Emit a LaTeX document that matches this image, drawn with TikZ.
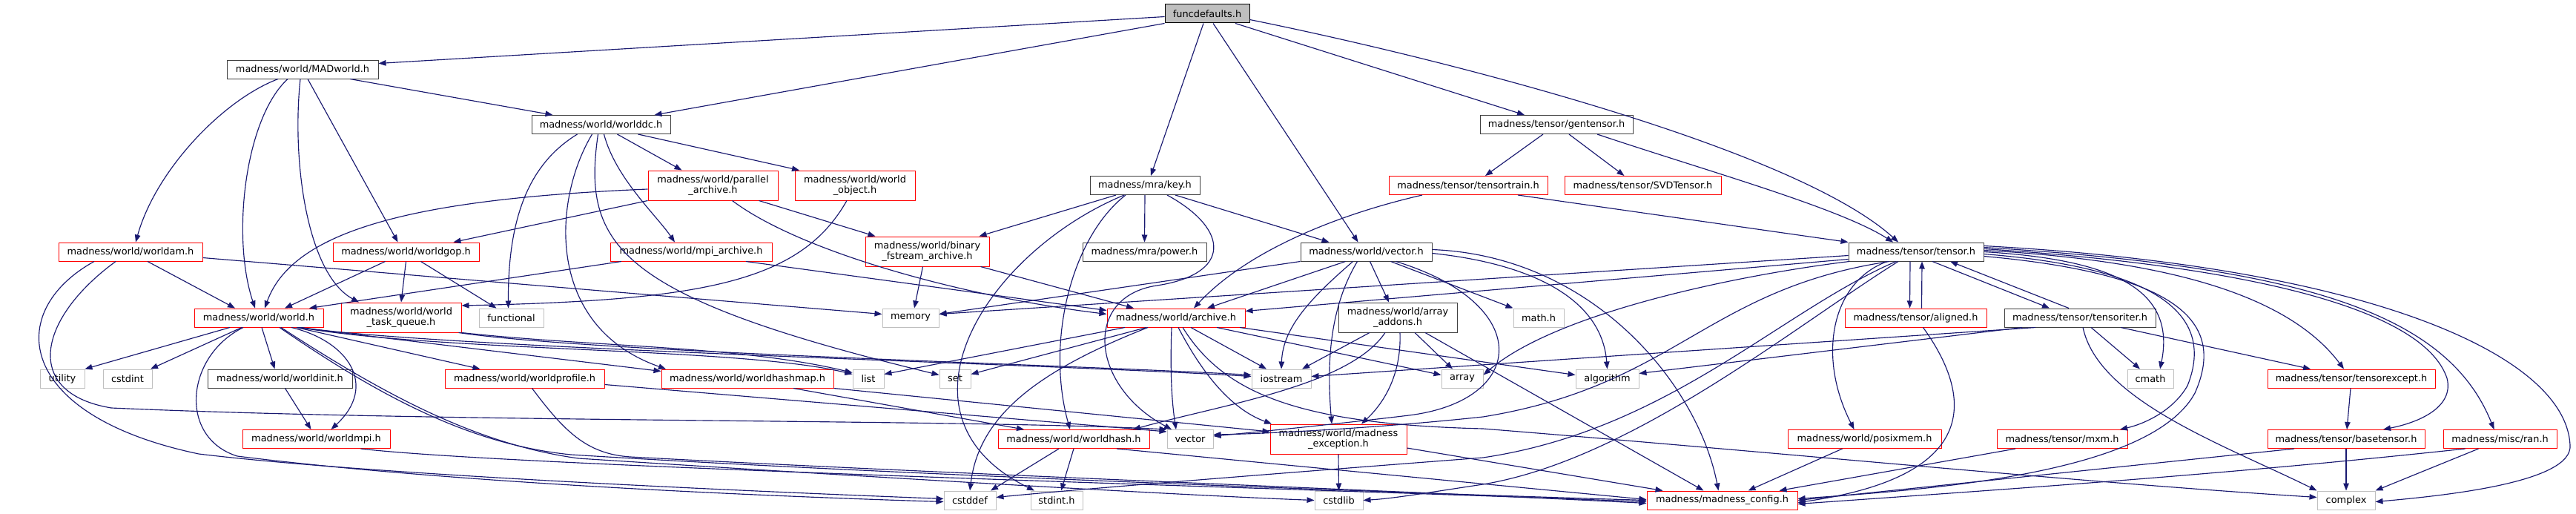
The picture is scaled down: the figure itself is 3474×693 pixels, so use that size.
\documentclass[tikz,border=0pt]{standalone}
\usepackage{fontspec}
\setmainfont{DejaVu Sans}
\usetikzlibrary{arrows.meta}
\definecolor{edgec}{RGB}{25,25,112}
\definecolor{gfill}{RGB}{191,191,191}
\definecolor{gline}{RGB}{191,191,191}
\definecolor{dline}{RGB}{64,64,64}
\begin{document}
\begin{tikzpicture}[x=1pt,y=-1pt,
  base/.style={rectangle,inner sep=0pt,minimum height=25pt,line width=1pt,fill=white,
     font=\fontsize{12.9}{14.5}\selectfont,align=center},
  bk/.style={base,draw=dline},
  rd/.style={base,draw=red},
  gy/.style={base,draw=gline},
  two/.style={minimum height=40pt},
  e/.style={draw=edgec,line width=1.15pt,-{Triangle[length=10pt,width=7.5pt]}}
]
\fill[white] (0,0) rectangle (3474,693);
\useasboundingbox (0,0) rectangle (3474,693);

% ---------------- nodes
\node[bk,fill=gfill,draw=black,minimum width=114pt] (fd) at (1628,18.5) {funcdefaults.h};
\node[bk,minimum width=204pt] (madw) at (408,93.5) {madness/world/MADworld.h};
\node[bk,minimum width=187pt] (wdc) at (810.5,168) {madness/world/worlddc.h};
\node[bk,minimum width=206pt] (gent) at (2099,168) {madness/tensor/gentensor.h};
\node[bk,minimum width=148pt] (key) at (1544,250) {madness/mra/key.h};
\node[rd,minimum width=214pt] (ttrain) at (1980,250) {madness/tensor/tensortrain.h};
\node[rd,minimum width=211pt] (svd) at (2215.5,250) {madness/tensor/SVDTensor.h};
\node[rd,two,minimum width=175pt] (par) at (961.5,250) {madness/world/parallel\\\_archive.h};
\node[rd,two,minimum width=162pt] (wobj) at (1153,250) {madness/world/world\\\_object.h};
\node[rd,minimum width=194pt] (wam) at (176,339.5) {madness/world/worldam.h};
\node[rd,minimum width=197pt] (wgop) at (547.5,339.5) {madness/world/worldgop.h};
\node[rd,minimum width=218pt] (mpiar) at (932,339.5) {madness/world/mpi\_archive.h};
\node[rd,two,minimum width=167pt] (bfs) at (1250.5,339) {madness/world/binary\\\_fstream\_archive.h};
\node[bk,minimum width=167pt] (power) at (1543.5,339.5) {madness/mra/power.h};
\node[bk,minimum width=177pt] (vec) at (1842.5,339.5) {madness/world/vector.h};
\node[bk,minimum width=182pt] (tensor) at (2584,339.5) {madness/tensor/tensor.h};
\node[rd,minimum width=174pt] (world) at (349,428.5) {madness/world/world.h};
\node[rd,two,minimum width=162pt] (wtq) at (541,428) {madness/world/world\\\_task\_queue.h};
\node[gy,minimum width=87pt] (functional) at (689.5,428.5) {functional};
\node[gy,minimum width=76pt] (memory) at (1228,428.5) {memory};
\node[rd,minimum width=186pt] (archive) at (1586,428.5) {madness/world/archive.h};
\node[bk,two,minimum width=160pt] (arradd) at (1885,428) {madness/world/array\\\_addons.h};
\node[gy,minimum width=68pt] (math) at (2075,428.5) {math.h};
\node[rd,minimum width=191pt] (aligned) at (2583.5,428.5) {madness/tensor/aligned.h};
\node[bk,minimum width=204pt] (titer) at (2805,428.5) {madness/tensor/tensoriter.h};
\node[gy,minimum width=60pt] (utility) at (84,510.5) {utility};
\node[gy,minimum width=66pt] (cstdint) at (172,510.5) {cstdint};
\node[bk,minimum width=195pt] (winit) at (377.5,510.5) {madness/world/worldinit.h};
\node[rd,minimum width=215pt] (wprof) at (707.5,510.5) {madness/world/worldprofile.h};
\node[rd,minimum width=232pt] (whmap) at (1008,510.5) {madness/world/worldhashmap.h};
\node[gy,minimum width=42pt] (list) at (1171,510.5) {list};
\node[gy,minimum width=42pt] (set) at (1288,510.5) {set};
\node[gy,minimum width=80pt] (iostream) at (1728,510.5) {iostream};
\node[gy,minimum width=56pt] (array) at (1972,510.5) {array};
\node[gy,minimum width=85pt] (algorithm) at (2167.5,510.5) {algorithm};
\node[gy,minimum width=62pt] (cmath) at (2900,510.5) {cmath};
\node[rd,minimum width=226pt] (texcept) at (3171,510.5) {madness/tensor/tensorexcept.h};
\node[rd,minimum width=199pt] (wmpi) at (426.5,592) {madness/world/worldmpi.h};
\node[rd,minimum width=204pt] (whash) at (1448,592) {madness/world/worldhash.h};
\node[gy,minimum width=62pt] (vector) at (1605,592) {vector};
\node[rd,two,minimum width=184pt] (mexc) at (1805,592) {madness/world/madness\\\_exception.h};
\node[rd,minimum width=207pt] (posix) at (2514.5,592) {madness/world/posixmem.h};
\node[rd,minimum width=176pt] (mxm) at (2781,592) {madness/tensor/mxm.h};
\node[rd,minimum width=212pt] (btensor) at (3164,592) {madness/tensor/basetensor.h};
\node[rd,minimum width=153pt] (ran) at (3371.5,592) {madness/misc/ran.h};
\node[gy,minimum width=70pt] (cstddef) at (1308,674.5) {cstddef};
\node[gy,minimum width=70pt] (stdint) at (1425,674.5) {stdint.h};
\node[gy,minimum width=65pt] (cstdlib) at (1805.5,674.5) {cstdlib};
\node[rd,minimum width=203pt] (mconfig) at (2322.5,674.5) {madness/madness\_config.h};
\node[gy,minimum width=78pt] (complex) at (3164,674.5) {complex};

% ---------------- edges
% funcdefaults
\draw[e] ([yshift=-4pt]fd.west) -- ([yshift=8pt]madw.east);
\draw[e] (fd.south west) -- ([xshift=72pt]wdc.north);
\draw[e] ([xshift=-5pt]fd.south) -- ([xshift=8pt]key.north);
\draw[e] ([xshift=8pt]fd.south) -- ([xshift=-11pt]vec.north);
\draw[e] ([xshift=38pt]fd.south) -- ([xshift=-43pt]gent.north);
\draw[e] ([yshift=-8pt]fd.east) .. controls (1950,80) and (2420,200) .. ([xshift=-24pt]tensor.north);
% MADworld
\draw[e] ([xshift=-33pt]madw.south) .. controls (300,135) and (210,230) .. ([xshift=7pt]wam.north);
\draw[e] ([xshift=-20pt]madw.south) .. controls (330,160) and (312,320) .. ([xshift=-5pt]world.north);
\draw[e] ([xshift=-3pt]madw.south) .. controls (393,220) and (415,370) .. ([xshift=-57pt]wtq.north);
\draw[e] ([xshift=7pt]madw.south) -- ([xshift=-11pt]wgop.north);
\draw[e] ([xshift=64pt]madw.south) -- ([xshift=-65pt]wdc.north);
% worlddc
\draw[e] ([xshift=-32pt]wdc.south) .. controls (715,220) and (685,290) .. ([xshift=-4pt]functional.north);
\draw[e] ([xshift=-12pt]wdc.south) .. controls (745,270) and (735,440) .. ([xshift=-110pt]whmap.north);
\draw[e] ([xshift=-4pt]wdc.south) .. controls (785,330) and (830,400) .. ([yshift=5pt]set.west);
\draw[e] ([xshift=22pt]wdc.south) -- ([xshift=-42pt]par.north);
\draw[e] ([xshift=50pt]wdc.south) -- ([xshift=-75pt]wobj.north);
\draw[e] ([xshift=4pt]wdc.south) .. controls (830,240) and (885,290) .. ([xshift=-22pt]mpiar.north);
% gentensor
\draw[e] ([xshift=-18pt]gent.south) -- ([xshift=23pt]ttrain.north);
\draw[e] ([xshift=17pt]gent.south) -- ([xshift=-25pt]svd.north);
\draw[e] ([xshift=55pt]gent.south) .. controls (2300,230) and (2480,280) .. ([xshift=-31pt]tensor.north);
% key
\draw[e] ([xshift=-39pt]key.south) -- ([xshift=70pt]bfs.north);
\draw[e] (key.south) -- (power.north);
\draw[e] ([xshift=41pt]key.south) -- ([xshift=-50pt]vec.north);
\draw[e] ([xshift=-28pt]key.south) .. controls (1330,340) and (1190,560) .. ([xshift=-30pt]stdint.north);
\draw[e] ([xshift=-26pt]key.south) .. controls (1445,320) and (1410,460) .. ([xshift=-5pt]whash.north);
\draw[e] ([xshift=30pt]key.south) .. controls (1660,310) and (1660,370) .. (1560,385) .. controls (1460,400) and (1470,520) .. ([xshift=-25pt]vector.north);
% tensortrain
\draw[e] ([xshift=-62pt]ttrain.south) .. controls (1800,290) and (1680,340) .. ([xshift=24pt]archive.north);
\draw[e] ([xshift=67pt]ttrain.south) -- (tensor.north west);
% parallel_archive
\draw[e] ([yshift=-5pt]par.west) .. controls (560,268) and (395,310) .. ([xshift=8pt]world.north);
\draw[e] (par.south west) -- ([xshift=64pt]wgop.north);
\draw[e] ([xshift=26pt]par.south) .. controls (1080,340) and (1300,400) .. ([yshift=5pt]archive.west);
\draw[e] ([xshift=62pt]par.south) -- ([xshift=-70pt]bfs.north);
% world_object
\draw[e] ([xshift=-11pt]wobj.south) .. controls (1080,380) and (950,405) .. ([yshift=16pt]wtq.east);
% worldam
\draw[e] ([xshift=23pt]wam.south) -- ([xshift=-32pt]world.north);
\draw[e] ([yshift=-8pt]wam.east) -- ([yshift=5pt]memory.west);
\draw[e] ([xshift=-49pt]wam.south) .. controls (5,420) and (20,560) .. (268,612) .. controls (500,640) and (1000,662) .. ([yshift=2pt]cstddef.west);
\draw[e] ([xshift=-20pt]wam.south) .. controls (50,430) and (30,530) .. (150,550) .. controls (600,570) and (1300,565) .. (vector.north west);
% worldgop
\draw[e] ([xshift=-28pt]wgop.south) -- ([xshift=35pt]world.north);
\draw[e] (wgop.south) -- (wtq.north);
\draw[e] ([xshift=20pt]wgop.south) -- ([xshift=-20pt]functional.north);
% mpi_archive
\draw[e] ([xshift=-94pt]mpiar.south) -- ([xshift=68pt]world.north);
\draw[e] ([xshift=74pt]mpiar.south) -- ([yshift=10pt]archive.west);
% binary_fstream_archive
\draw[e] ([xshift=-6pt]bfs.south) -- ([xshift=5pt]memory.north);
\draw[e] ([xshift=72pt]bfs.south) -- ([xshift=-57pt]archive.north);
% vector.h
\draw[e] ([xshift=-28pt]vec.south) -- ([xshift=42pt]archive.north);
\draw[e] ([xshift=-18pt]vec.south) .. controls (1770,400) and (1730,440) .. (iostream.north);
\draw[e] ([xshift=-12pt]vec.south) .. controls (1790,420) and (1790,500) .. ([xshift=-9pt]mexc.north);
\draw[e] ([xshift=5pt]vec.south) -- ([xshift=-12pt]arradd.north);
\draw[e] ([xshift=33pt]vec.south) -- (math.north west);
\draw[e] ([xshift=40pt]vec.south) .. controls (2070,410) and (2060,540) .. (1900,560) .. controls (1800,572) and (1700,582) .. ([yshift=4pt]vector.east);
\draw[e] (vec.south west) -- ([yshift=5pt]memory.east);
\draw[e] ([yshift=-2pt]vec.east) .. controls (2060,355) and (2160,400) .. (algorithm.north);
\draw[e] ([yshift=3pt]vec.east) .. controls (2150,345) and (2290,520) .. ([xshift=-5pt]mconfig.north);
% tensor.h
\draw[e] ([yshift=-5pt]tensor.west) -- ([yshift=5pt]memory.east);
\draw[e] ([yshift=-10pt]tensor.west) -- ([yshift=9pt]archive.east);
\draw[e] ([xshift=-90pt]tensor.south) .. controls (2350,370) and (2100,420) .. ([yshift=5pt]array.east);
\draw[e] ([xshift=-36pt]tensor.south) .. controls (2300,390) and (2260,520) .. (2000,562) .. controls (1850,578) and (1700,585) .. ([yshift=6pt]vector.east);
\draw[e] ([xshift=-27pt]tensor.south) .. controls (2400,420) and (2250,580) .. (2000,617) .. controls (1700,640) and (1450,660) .. ([yshift=4pt]cstddef.east);
\draw[e] ([xshift=-24pt]tensor.south) .. controls (2420,440) and (2200,620) .. (2000,653) .. controls (1920,665) and (1880,672) .. (cstdlib.east);
\draw[e] ([xshift=-39pt]tensor.south) .. controls (2470,380) and (2450,480) .. ([xshift=-14pt]posix.north);
\draw[e] ([xshift=-8pt]tensor.south) -- ([xshift=-8pt]aligned.north);
\draw[e] ([xshift=8pt]aligned.north) -- ([xshift=8pt]tensor.south);
\draw[e] ([xshift=22pt]tensor.south) -- ([xshift=-41pt]titer.north);
\draw[e] ([xshift=-15pt]titer.north) -- ([xshift=46pt]tensor.south);
\draw[e] ([yshift=0pt]tensor.east) .. controls (2850,350) and (2935,390) .. ([xshift=13pt]cmath.north);
\draw[e] ([yshift=-3pt]tensor.east) .. controls (2900,360) and (2990,420) .. (2950,520) .. controls (2930,555) and (2890,572) .. ([xshift=78pt]mxm.north);
\draw[e] ([yshift=-6pt]tensor.east) .. controls (2950,370) and (3000,440) .. (2960,530) .. controls (2900,640) and (2600,660) .. ([yshift=2pt]mconfig.east);
\draw[e] ([yshift=2pt]tensor.east) .. controls (2900,350) and (3080,390) .. ([xshift=-10pt]texcept.north);
\draw[e] ([yshift=4pt]tensor.east) .. controls (3050,360) and (3270,420) .. (3300,510) .. controls (3310,550) and (3260,570) .. ([xshift=50pt]btensor.north);
\draw[e] ([yshift=6pt]tensor.east) .. controls (3100,360) and (3300,420) .. ([xshift=-8pt]ran.north);
\draw[e] ([yshift=8pt]tensor.east) .. controls (3200,360) and (3460,480) .. (3466,600) .. controls (3470,650) and (3300,668) .. ([yshift=-2pt]complex.east);
% aligned
\draw[e] ([xshift=10pt]aligned.south) .. controls (2650,520) and (2690,640) .. ([yshift=-3pt]mconfig.east);
% tensoriter
\draw[e] ([xshift=4pt]titer.south) .. controls (2830,540) and (3000,600) .. (complex.north west);
\draw[e] ([xshift=15pt]titer.south) -- ([xshift=-14pt]cmath.north);
\draw[e] ([xshift=55pt]titer.south) -- ([xshift=-55pt]texcept.north);
\draw[e] ([xshift=-78pt]titer.south) -- ([yshift=7pt]algorithm.east);
\draw[e] ([xshift=-60pt]titer.south) -- ([yshift=3pt]iostream.east);
% world.h
\draw[e] ([xshift=-39pt]world.south) -- (utility.north east);
\draw[e] ([xshift=-23pt]world.south) -- ([xshift=31pt]cstdint.north);
\draw[e] ([xshift=4pt]world.south) -- ([xshift=-7pt]winit.north);
\draw[e] ([xshift=44pt]world.south) .. controls (470,460) and (510,520) .. ([xshift=20pt]wmpi.north);
\draw[e] ([xshift=51pt]world.south) -- ([xshift=-60pt]wprof.north);
\draw[e] ([xshift=53pt]world.south) -- ([yshift=10pt]whmap.west);
\draw[e] ([xshift=55pt]world.south) .. controls (600,475) and (1000,468) .. ([yshift=6pt]list.west);
\draw[e] ([xshift=57pt]world.south) .. controls (600,470) and (1400,490) .. ([yshift=3pt]iostream.west);
\draw[e] ([xshift=-21pt]world.south) .. controls (250,480) and (240,590) .. (320,615) .. controls (600,650) and (1000,668) .. ([yshift=-2pt]cstddef.west);
\draw[e] ([xshift=28pt]world.south) .. controls (520,540) and (640,600) .. (770,613) .. controls (1200,640) and (1900,665) .. (mconfig.west);
\draw[e] ([xshift=30pt]world.south) .. controls (530,540) and (650,600) .. (780,618) .. controls (1200,645) and (1600,668) .. (cstdlib.west);
% world_task_queue
\draw[e] (wtq.south east) .. controls (800,468) and (1000,466) .. ([yshift=8pt]list.west);
\draw[e] ([xshift=-4pt]wtq.south east) .. controls (800,475) and (1400,490) .. ([yshift=5pt]iostream.west);
% worldinit, worldmpi, worldprofile
\draw[e] ([xshift=7pt]winit.south) -- ([xshift=-7pt]wmpi.north);
\draw[e] ([xshift=60pt]wmpi.south) .. controls (700,630) and (1800,660) .. ([yshift=-2pt]mconfig.west);
\draw[e] ([xshift=10pt]wprof.south) .. controls (760,580) and (790,612) .. (850,616) .. controls (1300,640) and (1900,662) .. ([yshift=-4pt]mconfig.west);
\draw[e] ([yshift=-8pt]wprof.east) -- ([yshift=10pt]vector.west);
% worldhashmap
\draw[e] ([xshift=62pt]whmap.south) -- ([xshift=-67pt]whash.north);
\draw[e] (whmap.south east) -- ([yshift=10pt]mexc.west);
% archive
\draw[e] ([xshift=-69pt]archive.south) -- ([yshift=6pt]list.east);
\draw[e] ([xshift=-40pt]archive.south) -- ([yshift=6pt]set.east);
\draw[e] ([xshift=-38pt]archive.south) .. controls (1400,500) and (1320,560) .. (cstddef.north);
\draw[e] ([xshift=-6pt]archive.south) .. controls (1578,500) and (1580,540) .. ([xshift=-19pt]vector.north);
\draw[e] ([xshift=3pt]archive.south) .. controls (1630,520) and (1670,555) .. ([xshift=-90pt]mexc.north);
\draw[e] ([xshift=9pt]archive.south) .. controls (1650,530) and (1750,572) .. (2000,578) .. controls (2400,610) and (2800,650) .. ([yshift=4pt]complex.west);
\draw[e] ([xshift=20pt]archive.south) -- ([xshift=-20pt]iostream.north);
\draw[e] ([xshift=55pt]archive.south) -- ([yshift=5pt]array.west);
\draw[e] ([xshift=86pt]archive.south) -- ([yshift=5pt]algorithm.west);
% array_addons
\draw[e] ([xshift=-38pt]arradd.south) -- ([xshift=28pt]iostream.north);
\draw[e] ([xshift=-17pt]arradd.south) .. controls (1820,520) and (1650,545) .. ([xshift=80pt]whash.north);
\draw[e] ([xshift=3pt]arradd.south) .. controls (1890,500) and (1870,540) .. ([xshift=31pt]mexc.north);
\draw[e] ([xshift=23pt]arradd.south) -- ([xshift=-13pt]array.north);
\draw[e] ([xshift=37pt]arradd.south) -- ([xshift=-25pt]mconfig.north);
% worldhash
\draw[e] ([xshift=-20pt]whash.south) -- ([xshift=28pt]cstddef.north);
\draw[e] (whash.south) -- ([xshift=6pt]stdint.north);
\draw[e] ([xshift=58pt]whash.south) -- ([yshift=1pt]mconfig.west);
% madness_exception
\draw[e] (mexc.south) -- (cstdlib.north);
\draw[e] ([yshift=-12pt]mexc.east) -- ([xshift=-80pt]mconfig.north);
% posixmem, mxm
\draw[e] ([xshift=-30pt]posix.south) -- ([xshift=35pt]mconfig.north);
\draw[e] ([xshift=-63pt]mxm.south) -- ([xshift=77pt]mconfig.north);
% tensorexcept, basetensor, ran
\draw[e] ([xshift=-1pt]texcept.south) -- ([xshift=1pt]btensor.north);
\draw[e] (btensor.south) -- (complex.north);
\draw[e] ([xshift=-70pt]btensor.south) -- (mconfig.east);
\draw[e] ([xshift=-47pt]ran.south) .. controls (3000,640) and (2700,660) .. ([yshift=-5pt]mconfig.east);
\draw[e] ([xshift=-29pt]ran.south) -- (complex.north east);
\end{tikzpicture}
\end{document}
